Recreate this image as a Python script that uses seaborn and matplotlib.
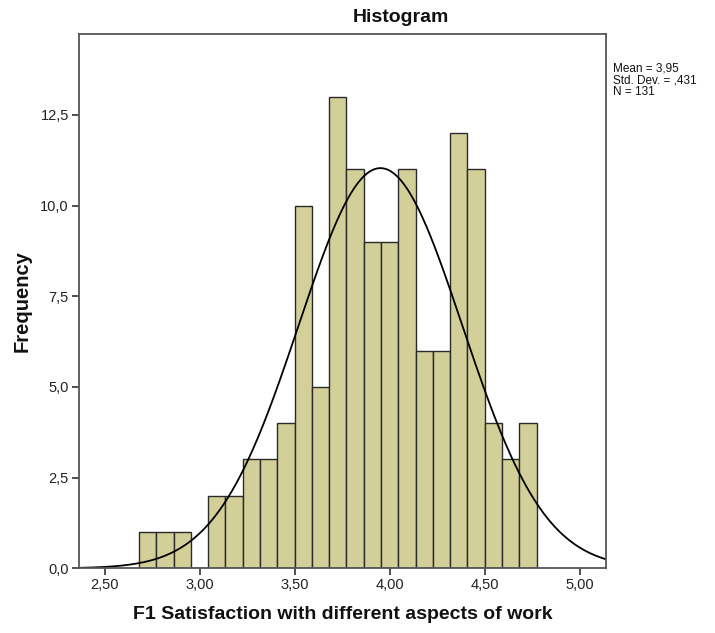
import numpy as np
import pandas as pd
import matplotlib
matplotlib.use("Agg")
import matplotlib.pyplot as plt
import seaborn as sns

# ---- data ----
bin_lo, bin_hi = 2.679, 4.772
counts = [1, 1, 1, 0, 2, 2, 3, 3, 4, 10, 5, 13, 11, 9, 9, 11, 6, 6, 12, 11, 4, 3, 4]
mean_val, sd_val, n_val = 3.95, 0.431, 131
x_ticks = [2.5, 3.0, 3.5, 4.0, 4.5, 5.0]
x_tick_labels = ["2,50", "3,00", "3,50", "4,00", "4,50", "5,00"]
y_ticks = [0.0, 2.5, 5.0, 7.5, 10.0, 12.5]
y_tick_labels = ["0,0", "2,5", "5,0", "7,5", "10,0", "12,5"]
title = "Histogram"
x_label = "F1 Satisfaction with different aspects of work"
y_label = "Frequency"
stats_lines = ["Mean = 3,95", "Std. Dev. = ,431", "N = 131"]

sns.set_style("white")
plt.rcParams["font.family"] = ["Liberation Sans", "DejaVu Sans"]

W, H = 715, 633
fig = plt.figure(figsize=(W / 100, H / 100), dpi=100)
left, right, top, bottom = 78.7, 606, 33.7, 568.3
ax = fig.add_axes([left / W, 1 - bottom / H, (right - left) / W, (bottom - top) / H])

nb = len(counts)
edges = [float(e) for e in np.linspace(bin_lo, bin_hi, nb + 1)]
centers = [(edges[i] + edges[i + 1]) / 2 for i in range(nb)]
df = pd.DataFrame({"x": centers, "w": [float(c) for c in counts]})
sns.histplot(data=df, x="x", weights="w", bins=edges, ax=ax,
             color="#d3cf99", edgecolor="#2a2a2a", linewidth=1.0, alpha=1.0)

xmin, xmax = 2.362, 5.137
binw = (bin_hi - bin_lo) / nb
xs = np.linspace(xmin, xmax, 400)
ys = n_val * binw / (sd_val * np.sqrt(2 * np.pi)) * np.exp(-0.5 * ((xs - mean_val) / sd_val) ** 2)
sns.lineplot(x=xs, y=ys, ax=ax, color="black", linewidth=1.3)

ax.set_xlim(xmin, xmax)
ax.set_ylim(0, 14.74)
ax.set_xticks(x_ticks)
ax.set_xticklabels(x_tick_labels)
ax.set_yticks(y_ticks)
ax.set_yticklabels(y_tick_labels)
ax.tick_params(axis="both", direction="out", length=5, width=1.2, color="#333333",
               labelsize=10.5, labelcolor="#222222", pad=2,
               bottom=True, left=True, top=False, right=False)
for s in ax.spines.values():
    s.set_visible(True)
    s.set_color("#555555")
    s.set_linewidth(1.3)

ax.set_xlabel(x_label, fontsize=14, fontweight="bold", color="#111111", labelpad=10)
ax.set_ylabel(y_label, fontsize=14.5, fontweight="bold", color="#111111", labelpad=6)
fig.text(401 / W, 1 - 17 / H, title, ha="center", va="center", fontsize=14,
         fontweight="bold", color="#111111")
for i, line in enumerate(stats_lines):
    fig.text(613 / W, 1 - (68.8 + 11.5 * i) / H, line, ha="left", va="center",
             fontsize=8.5, color="#111111")

fig.savefig("out.png", dpi=100)
